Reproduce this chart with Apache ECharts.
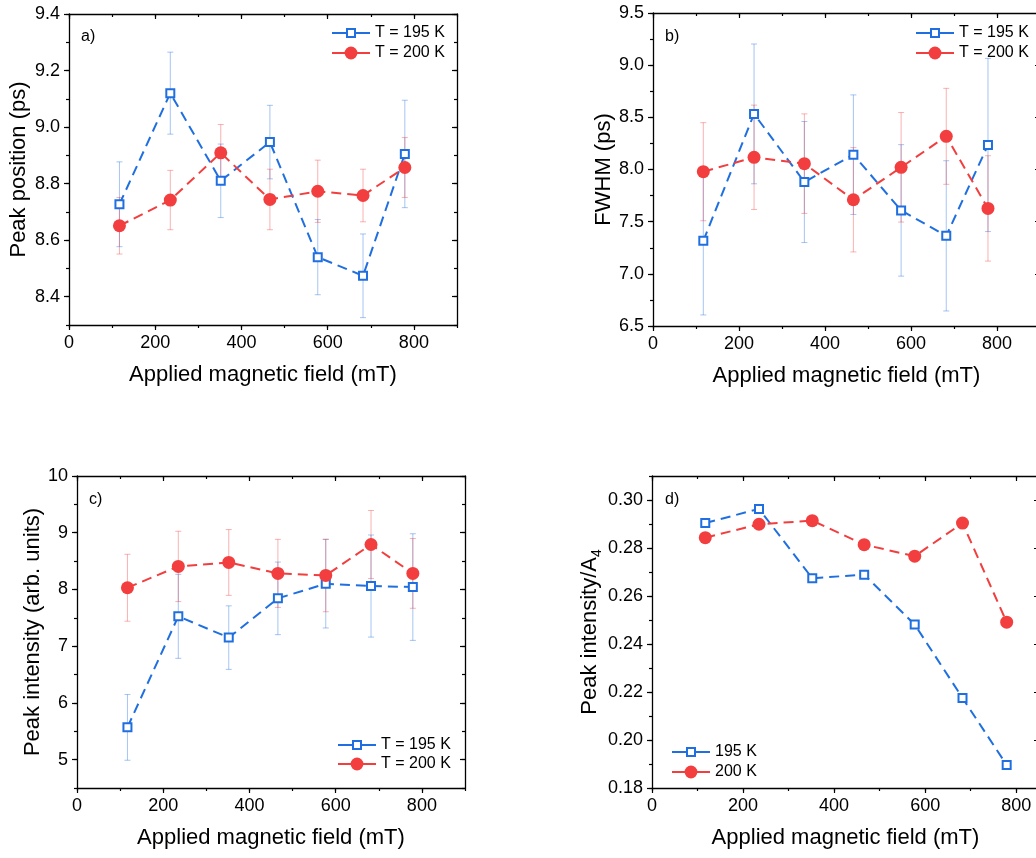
<!DOCTYPE html>
<html>
<head>
<meta charset="utf-8">
<script src="https://cdn.jsdelivr.net/npm/echarts@6/dist/echarts.min.js"></script>
<style>
  html, body { margin: 0; padding: 0; background: #fff; }
  #chart { width: 1036px; height: 858px; }
</style>
</head>
<body>
<div id="chart"></div>
<script>
// applied field (mT), same for every panel
const field = [117, 235, 352, 466, 577, 682, 779]

// a) peak position (ps)
const posT195 = [8.727, 9.120, 8.810, 8.947, 8.540, 8.474, 8.905]
const posT195Err = [0.15, 0.145, 0.13, 0.13, 0.133, 0.148, 0.19]
const posT200 = [8.651, 8.742, 8.909, 8.744, 8.773, 8.758, 8.857]
const posT200Err = [0.10, 0.105, 0.10, 0.107, 0.11, 0.093, 0.106]

// b) FWHM (ps)
const fwhmT195 = [7.316, 8.533, 7.880, 8.142, 7.608, 7.364, 8.235]
const fwhmT195Err = [0.71, 0.67, 0.58, 0.573, 0.63, 0.72, 0.83]
const fwhmT200 = [7.979, 8.117, 8.056, 7.710, 8.021, 8.318, 7.627]
const fwhmT200Err = [0.47, 0.50, 0.477, 0.50, 0.525, 0.46, 0.505]

// c) peak intensity (arb. units)
const intT195 = [5.569, 7.526, 7.151, 7.843, 8.101, 8.060, 8.042]
const intT195Err = [0.58, 0.74, 0.56, 0.64, 0.78, 0.90, 0.94]
const intT200 = [8.030, 8.406, 8.476, 8.283, 8.247, 8.792, 8.283]
const intT200Err = [0.59, 0.62, 0.58, 0.60, 0.64, 0.60, 0.615]

// d) peak intensity / A4
const normT195 = [0.2904, 0.2963, 0.2674, 0.2689, 0.2481, 0.2175, 0.1896]
const normT200 = [0.2843, 0.2899, 0.2914, 0.2814, 0.2766, 0.2904, 0.2491]

// tick labels
const fieldTicks = [0, 200, 400, 600, 800]
const posTicks = [8.4, 8.6, 8.8, 9.0, 9.2, 9.4]
const fwhmTicks = [6.5, 7.0, 7.5, 8.0, 8.5, 9.0, 9.5]
const intTicks = [5, 6, 7, 8, 9, 10]
const normTicks = [0.18, 0.20, 0.22, 0.24, 0.26, 0.28, 0.30]

const FONT = '"Liberation Sans", Arial, sans-serif'
const BLUE = '#1f6fe0'
const RED = '#f23e3e'
const BLUE_ERR = 'rgba(31,111,224,0.4)'
const RED_ERR = 'rgba(242,62,62,0.4)'

// main axis with labels + hidden minor axis, then mirrored axis on the opposite side
function axisSet(dim, gridIndex, cfg) {
  const near = dim === 'x' ? 'bottom' : 'left'
  const far = dim === 'x' ? 'top' : 'right'
  const base = {type: 'value', gridIndex, min: cfg.min, max: cfg.max, splitLine: {show: false}}
  const line = {show: true, onZero: false, lineStyle: {color: '#000', width: 1.3}}
  const noLine = {show: false, onZero: false}
  const tickStyle = {color: '#000', width: 1.2}
  return [
    Object.assign({}, base, {
      position: near,
      axisLine: line,
      axisTick: {show: true, inside: false, length: 5, customValues: cfg.ticks, lineStyle: tickStyle},
      axisLabel: {customValues: cfg.ticks, formatter: cfg.fmt, fontSize: 18, color: '#000', fontFamily: FONT, margin: 9},
      name: cfg.name,
      nameLocation: 'middle',
      nameGap: cfg.nameGap,
      nameTextStyle: {fontSize: 22, color: '#000', fontFamily: FONT, rich: cfg.rich}
    }),
    Object.assign({}, base, {
      position: near, interval: cfg.minor, axisLine: noLine,
      axisTick: {show: true, inside: false, length: 3, lineStyle: tickStyle},
      axisLabel: {show: false}
    }),
    Object.assign({}, base, {
      position: far, axisLine: line,
      axisTick: {show: true, inside: true, length: 5, customValues: cfg.ticks, lineStyle: tickStyle},
      axisLabel: {show: false}
    }),
    Object.assign({}, base, {
      position: far, interval: cfg.minor, axisLine: noLine,
      axisTick: {show: true, inside: true, length: 3, lineStyle: tickStyle},
      axisLabel: {show: false}
    })
  ]
}

function fieldAxis(gridIndex, max) {
  return axisSet('x', gridIndex, {
    min: 0, max: max, ticks: fieldTicks, minor: 100, fmt: v => String(v),
    name: 'Applied magnetic field (mT)', nameGap: 39
  })
}

function lineSeries(name, panel, ys, color, symbol) {
  const filled = symbol === 'circle'
  return {
    type: 'line',
    name: name,
    xAxisIndex: panel * 4,
    yAxisIndex: panel * 4,
    data: field.map((x, i) => [x, ys[i]]),
    symbol: symbol,
    symbolSize: filled ? 13 : 8,
    itemStyle: filled ? {color: color} : {color: '#fff', borderColor: color, borderWidth: 2},
    lineStyle: {color: color, width: 2, type: [10, 6]},
    z: 3
  }
}

function errorSeries(panel, ys, errs, color) {
  return {
    type: 'custom',
    xAxisIndex: panel * 4,
    yAxisIndex: panel * 4,
    silent: true,
    z: 1,
    data: field.map((x, i) => [x, ys[i] - errs[i], ys[i] + errs[i]]),
    encode: {x: 0, y: [1, 2]},
    renderItem: function (params, api) {
      const top = api.coord([api.value(0), api.value(2)])
      const bot = api.coord([api.value(0), api.value(1)])
      const w = 3
      const st = {stroke: color, lineWidth: 1}
      return {
        type: 'group',
        children: [
          {type: 'line', shape: {x1: top[0], y1: top[1], x2: bot[0], y2: bot[1]}, style: st},
          {type: 'line', shape: {x1: top[0] - w, y1: top[1], x2: top[0] + w, y2: top[1]}, style: st},
          {type: 'line', shape: {x1: bot[0] - w, y1: bot[1], x2: bot[0] + w, y2: bot[1]}, style: st}
        ]
      }
    }
  }
}

// one legend per entry so the square and the circle keep their own sizes
// (the legend symbol is 80% of itemHeight)
function legendItem(name, left, centerY, filled) {
  const h = filled ? 16 : 10
  return {
    data: [name], left: left, top: centerY - 9, orient: 'vertical', padding: 0,
    itemWidth: 38, itemHeight: h, selectedMode: false,
    lineStyle: {type: 'solid', width: 2},
    itemStyle: filled ? {} : {borderWidth: 2},
    textStyle: {fontSize: 16, color: '#000', fontFamily: FONT, lineHeight: 18}
  }
}

function panelTitle(text, left, top) {
  return {text: text, left: left, top: top, padding: 0,
    textStyle: {fontSize: 16, fontWeight: 'normal', color: '#000', fontFamily: FONT}}
}

const chart = echarts.init(document.getElementById('chart'), null, {renderer: 'canvas'})

const option = {
  animation: false,
  backgroundColor: '#fff',
  title: [
    panelTitle('a)', 81, 29),
    panelTitle('b)', 665, 29),
    panelTitle('c)', 89, 492),
    panelTitle('d)', 665, 492)
  ],
  legend: [
    legendItem('T = 195 K', 331, 33, false),
    legendItem('T = 200 K', 331, 53, true),
    legendItem('T = 195 K', 915, 33, false),
    legendItem('T = 200 K', 915, 53, true),
    legendItem('T = 195 K', 337, 745, false),
    legendItem('T = 200 K', 337, 764, true),
    legendItem('195 K', 671, 752, false),
    legendItem('200 K', 671, 772, true)
  ],
  grid: [
    {left: 69, top: 14, width: 388, height: 311, outerBoundsMode: 'none'},
    {left: 653, top: 13, width: 387, height: 313, outerBoundsMode: 'none'},
    {left: 77, top: 476, width: 388, height: 312, outerBoundsMode: 'none'},
    {left: 652, top: 476, width: 387, height: 312, outerBoundsMode: 'none'}
  ],
  xAxis: [].concat(
    fieldAxis(0, 900),
    fieldAxis(1, 900),
    fieldAxis(2, 900),
    fieldAxis(3, 850)
  ),
  yAxis: [].concat(
    axisSet('y', 0, {min: 8.3, max: 9.4, ticks: posTicks, minor: 0.1, fmt: v => v.toFixed(1),
      name: 'Peak position (ps)', nameGap: 39}),
    axisSet('y', 1, {min: 6.5, max: 9.5, ticks: fwhmTicks, minor: 0.25, fmt: v => v.toFixed(1),
      name: 'FWHM (ps)', nameGap: 38}),
    axisSet('y', 2, {min: 4.5, max: 10, ticks: intTicks, minor: 0.5, fmt: v => String(v),
      name: 'Peak intensity (arb. units)', nameGap: 33}),
    axisSet('y', 3, {min: 0.18, max: 0.31, ticks: normTicks, minor: 0.01, fmt: v => v.toFixed(2),
      name: '{a|Peak intensity/A}{s|4}', nameGap: 47,
      rich: {
        a: {fontSize: 22, lineHeight: 28, fontFamily: FONT, color: '#000'},
        s: {fontSize: 14, lineHeight: 14, verticalAlign: 'bottom', fontFamily: FONT, color: '#000'}
      }})
  ),
  series: [
    errorSeries(0, posT195, posT195Err, BLUE_ERR),
    errorSeries(0, posT200, posT200Err, RED_ERR),
    lineSeries('T = 195 K', 0, posT195, BLUE, 'rect'),
    lineSeries('T = 200 K', 0, posT200, RED, 'circle'),

    errorSeries(1, fwhmT195, fwhmT195Err, BLUE_ERR),
    errorSeries(1, fwhmT200, fwhmT200Err, RED_ERR),
    lineSeries('T = 195 K', 1, fwhmT195, BLUE, 'rect'),
    lineSeries('T = 200 K', 1, fwhmT200, RED, 'circle'),

    errorSeries(2, intT195, intT195Err, BLUE_ERR),
    errorSeries(2, intT200, intT200Err, RED_ERR),
    lineSeries('T = 195 K', 2, intT195, BLUE, 'rect'),
    lineSeries('T = 200 K', 2, intT200, RED, 'circle'),

    lineSeries('195 K', 3, normT195, BLUE, 'rect'),
    lineSeries('200 K', 3, normT200, RED, 'circle')
  ]
}

chart.setOption(option)
</script>
</body>
</html>
